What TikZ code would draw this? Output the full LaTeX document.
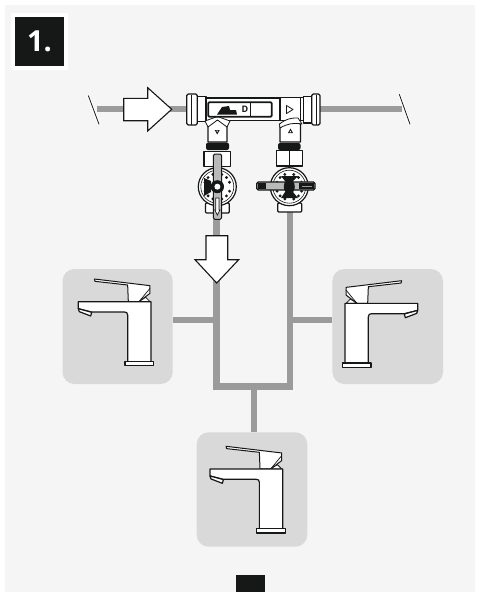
\documentclass[tikz,border=0pt]{standalone}
\usepackage{fontspec}
\setmainfont{Open Sans}
\definecolor{pagebg}{HTML}{F5F5F5}
\definecolor{pipeg}{HTML}{9B9B9B}
\definecolor{panelg}{HTML}{D9D9D9}
\definecolor{inkk}{HTML}{161817}
\newcommand{\faucetbody}{%
  \path[thin part,line width=1pt] (118,57) -- (285,77) -- (285,100) -- (252,125) -- (220,125) -- (218,75) -- (120,64) -- cycle;
  \path[thin part] (252,125) -- (272,112) -- (285,125) -- cycle;
  \draw[inkk,line width=.7pt] (252,125) -- (285,85);
  \path[part] (70,125) -- (288,125) -- (288,305) -- (218,305) -- (218,165) .. controls (218,158) and (214,156) .. (208,156) -- (110,156) -- (70,146) -- cycle;
  \path[part] (70,146) -- (110,157) -- (107,168) -- (73,155) -- cycle;
  \path[part] (210,304) rectangle (296,317);
}
\tikzset{
  pipe/.style={draw=pipeg,line width=5.6pt,line cap=butt},
  panel/.style={fill=panelg,rounded corners=12pt},
  part/.style={draw=inkk,fill=white,line width=1.2pt,line join=round},
  thin part/.style={draw=inkk,fill=white,line width=.8pt,line join=round},
  dark/.style={fill=inkk,draw=none},
  flow/.style={draw=inkk,fill=white,line width=1.1pt,line join=miter},
  slash/.style={draw=inkk,line width=.8pt,preaction={draw=white,line width=3pt}},
  faucet/.pic={\begin{scope}[x=.3333pt,y=-.3333pt]\faucetbody\end{scope}},
  faucet mirrored/.pic={\begin{scope}[x=-.3333pt,y=-.3333pt]\faucetbody\end{scope}},
  dial/.pic={
    \path[part] (0,0) circle (19pt);
    \draw[inkk,line width=.6pt] (0,0) circle (16.5pt);
    \foreach \a in {20,45,70,110,135,160,200,225,250,290,315,340}
      \fill[inkk] (\a:13pt) circle (1.6pt);
  }
}
\begin{document}
\begin{tikzpicture}[x=1pt,y=-1pt]
\useasboundingbox (0,0) rectangle (480,592);
\fill[white] (0,0) rectangle (480,592);
\fill[pagebg] (5,5) rectangle (475,592);

% badge
\fill[white] (10.7,12.7) rectangle (67.7,70);
\node[fill=inkk,minimum width=49pt,minimum height=49pt,inner sep=0pt,text=white,font=\bfseries\fontsize{29}{29}\selectfont] (badge) at (39.5,41.5) {1.};

% panels
\node[panel,minimum width=110.2pt,minimum height=115pt,inner sep=0pt] (pl) at (117.6,326.5) {};
\node[panel,minimum width=110.6pt,minimum height=115pt,inner sep=0pt] (pr) at (387.7,326.5) {};
\node[panel,minimum width=110.6pt,minimum height=114.4pt,inner sep=0pt] (pb) at (252,489.5) {};

% pipes
\coordinate (inL) at (97,109);
\coordinate (inR) at (190,109);
\coordinate (outL) at (318,109);
\coordinate (outR) at (402,109);
\draw[pipe,line width=6.4pt] (inL) -- (inR);
\draw[pipe,line width=6.4pt] (outL) -- (outR);
\coordinate (vl) at (216.3,215);
\coordinate (vr) at (290,210);
\coordinate (jl) at (216.3,319.7);
\coordinate (jr) at (290,319.7);
\coordinate (jb) at (254.3,386.5);
\draw[pipe,line width=6.6pt,line join=miter] (vl) -- (216.3,386.5) -- (290,386.5) -- (vr);
\draw[pipe,line width=6pt] (jl) -- (jl -| pl.east);
\draw[pipe,line width=6pt] (jr) -- (jr -| pr.west);
\draw[pipe,line width=6.2pt] (jb) -- (jb |- pb.north);

% cut marks
\coordinate (sa) at (88.3,95.5);
\coordinate (sb) at (99,124.3);
\coordinate (sc) at (399.3,94.3);
\coordinate (sd) at (410,124.3);
\draw[slash] (sa) -- (sb);
\draw[slash] (sc) -- (sd);

% inlet arrow
\path[flow] (123.7,98.3) -- (147.7,98.3) -- (147.7,87.7) -- (171.7,109.3) -- (147.7,131) -- (147.7,120.7) -- (123.7,120.7) -- cycle;

% branches
\path[part] (208,142) -- (208,124) -- (217.5,116.5) -- (227,124) -- (227,142) -- cycle;
\path[part] (280,142) -- (280,124) to[bend left=20] (300.5,124) -- (300.5,142) -- cycle;

% manifold
\path[part] (197,98) rectangle (290,120.7);
\path[part] (280,97.5) rectangle (303.5,120.7);
\path[part] (197,96.7) rectangle (206,121.5);
\path[part,rounded corners=1.5pt] (186.7,94) rectangle (197.3,125);
\draw[inkk,line width=.8pt] (191,94.5) -- (191,124.5);
\path[part] (303.5,96.5) rectangle (311.7,123);
\path[part,rounded corners=1.5pt] (311.7,94) rectangle (320,125);
\draw[inkk,line width=.8pt] (316,94.5) -- (316,124.5);
\draw[inkk,line width=.8pt] (300,97.5) -- (300,120.7);
% re-mark the branch shoulders
\path[thin part] (205,121) -- (217.5,116.5) -- (230,121) -- (227,127) -- (217.5,120) -- (208,127) -- cycle;
\path[thin part] (279.5,124) to[bend left=20] (298,118) -- (302,124) to[bend right=20] (280,128) -- cycle;

% gauge window
\path[draw=inkk,fill=white,line width=1.8pt,rounded corners=1pt] (208.3,102.3) rectangle (271.7,116.7);
\fill[inkk] (217,114.5) -- (222,107) -- (229,106) -- (230,110) -- (236,110) -- (237,114.5) -- cycle;
\node[inner sep=0pt,text=inkk,font=\bfseries\fontsize{9}{9}\selectfont] (dlabel) at (245,109.6) {D};
\fill[inkk] (249.5,103) rectangle (251,116);

% flow marks
\path[thin part] (286.5,105.5) -- (293,109.5) -- (286.5,113.5) -- cycle;
\fill[inkk] (214.7,130) -- (219.7,130) -- (217.2,134.5) -- cycle;
\fill[inkk] (288,133) -- (293,133) -- (290.5,128.5) -- cycle;
\fill[white] (216.4,130.7) -- (218,130.7) -- (217.2,132.3) -- cycle;
\fill[white] (289.7,132.3) -- (291.3,132.3) -- (290.5,130.7) -- cycle;

% left valve
\path[dark,rounded corners=2pt] (206,142.7) rectangle (229,150);
\path[part] (204,151.5) rectangle (230.7,166.7);
\path[part,rounded corners=1pt] (205.5,203) rectangle (229.3,213);
\pic (dialL) at (217.3,186.7) {dial};
\fill[inkk] (204,178) -- (211,181) -- (211,192) -- (204,196) -- cycle;
\fill[inkk] (217.3,186.7) circle (6.5pt);
\path[draw=inkk,fill=pipeg!70!white,line width=1pt,rounded corners=1.5pt] (213.3,154) rectangle (221.7,219.3);
\fill[inkk] (217.4,186.7) circle (6.5pt);
\fill[white] (217.4,186.7) circle (3pt);
\path[draw=inkk,fill=white,line width=.7pt] (215.8,198) -- (219,198) -- (219,210) -- (220,210) -- (217.4,215) -- (214.8,210) -- (215.8,210) -- cycle;

% right valve
\path[dark,rounded corners=2pt] (278,143) rectangle (300.5,150);
\path[part] (276.7,150.7) rectangle (302.7,166);
\draw[inkk,line width=.7pt] (289.7,151) -- (289.7,165.5);
\path[part,rounded corners=1pt] (277.7,203) rectangle (301.7,212);
\pic (dialR) at (289.3,186.7) {dial};
\fill[inkk] (281,176) -- (298,176) -- (293,181) -- (285,181) -- cycle;
\fill[inkk] (281,198) -- (298,198) -- (293,192) -- (285,192) -- cycle;
\path[draw=inkk,line width=1.3pt,fill=pipeg!70!white,rounded corners=1.5pt] (256.7,182) rectangle (315,190);
\fill[inkk] (299,183) rectangle (314,189);
\fill[pipeg] (302,185.5) rectangle (312,186.8);
\fill[inkk] (257.5,183) rectangle (266,189);
\fill[inkk] (289.3,186.7) ellipse (5.5pt and 7.5pt);

% outlet arrow
\path[flow] (206,235.7) -- (227.7,235.7) -- (227.7,259.7) -- (238.7,259.7) -- (216.7,283) -- (195,259.7) -- (206,259.7) -- cycle;

% faucets
\pic (fl) at (55,260) {faucet};
\pic (fr) at (441,261.7) {faucet mirrored};
\pic (fb) at (186.7,427.3) {faucet};

% bottom tab
\fill[inkk] (236,575) rectangle (265,592);
\end{tikzpicture}
\end{document}
